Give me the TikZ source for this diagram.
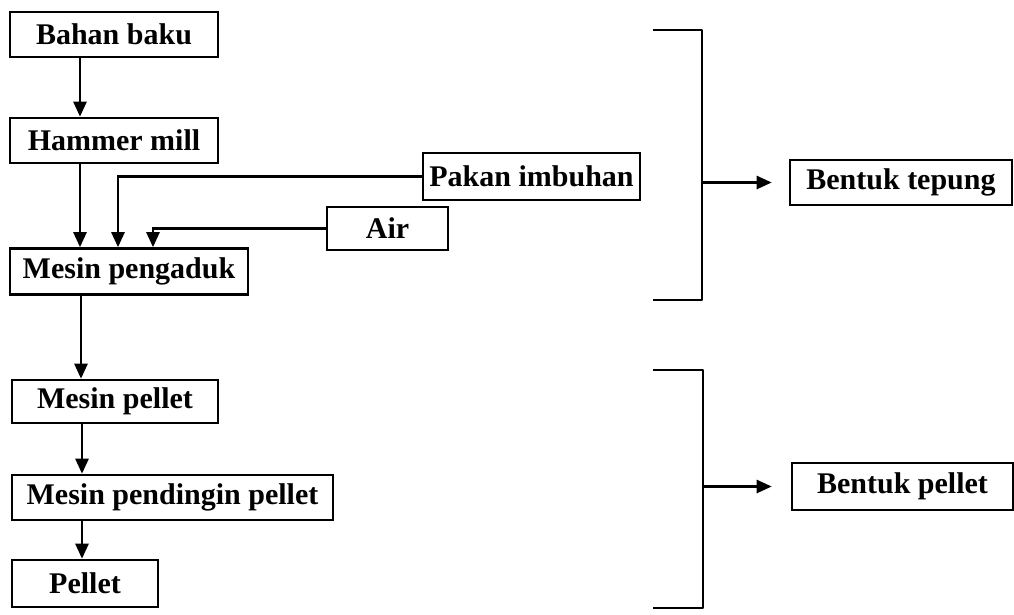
\documentclass[tikz,border=0pt]{standalone}
\usepackage{fontspec}
\setmainfont{Liberation Serif}
\usetikzlibrary{arrows.meta}
\begin{document}
\begin{tikzpicture}[x=1pt,y=-1pt,
  box/.style={draw,line width=2.6pt,inner sep=0pt,font=\fontsize{30}{34}\selectfont\bfseries},
  arr/.style={line width=2.6pt,-{Triangle[width=13pt,length=15pt]}},
  ln/.style={line width=2.6pt}]
\useasboundingbox (0,0) rectangle (1014,614);
\node[box,minimum width=208pt,minimum height=45pt] (bahan) at (114,34.5) {Bahan baku};
\node[box,minimum width=208pt,minimum height=45pt] (hammer) at (114,140.5) {Hammer mill};
\node[box,minimum width=238pt,minimum height=46pt] (aduk) at (129,271.5) {Mesin pengaduk};
\node[box,minimum width=217pt,minimum height=47pt] (pakan) at (531.5,176.5) {Pakan imbuhan};
\node[box,minimum width=121pt,minimum height=43pt] (air) at (387.5,228.5) {Air};
\node[box,minimum width=206pt,minimum height=43pt] (mpellet) at (115,401.5) {Mesin pellet};
\node[box,minimum width=321pt,minimum height=45pt] (dingin) at (172.5,497.5) {Mesin pendingin pellet};
\node[box,minimum width=146pt,minimum height=47pt] (pellet) at (85,583.5) {Pellet};
\node[box,minimum width=222pt,minimum height=45pt] (tepung) at (901,182.5) {Bentuk tepung};
\node[box,minimum width=221pt,minimum height=47pt] (bpellet) at (902.5,486.5) {Bentuk pellet};

\draw[arr] ([xshift=-34pt]bahan.south) -- ([xshift=-34pt]hammer.north);
\draw[arr] ([xshift=-34pt]hammer.south) -- ([xshift=-49pt]aduk.north);
\draw[arr] (pakan.west) -| ([xshift=-11pt]aduk.north);
\draw[arr] (air.west) -| ([xshift=24pt]aduk.north);
\draw[arr] ([xshift=-48pt]aduk.south) -- ([xshift=-34pt]mpellet.north);
\draw[arr] ([xshift=-33pt]mpellet.south) -- ([xshift=-90.5pt]dingin.north);
\draw[arr] ([xshift=-90.5pt]dingin.south) -- ([xshift=-3pt]pellet.north);

\coordinate (t1a) at (653,30);
\coordinate (t1b) at (702,30);
\coordinate (t1c) at (702,300);
\coordinate (t1d) at (653,300);
\draw[ln,line join=round] (t1a) -- (t1b) -- (t1c) -- (t1d);
\coordinate (b1) at (t1b |- tepung.west);
\draw[arr] (b1) -- ([xshift=-17pt]tepung.west);

\coordinate (t2a) at (653,370);
\coordinate (t2b) at (703,370);
\coordinate (t2c) at (703,608);
\coordinate (t2d) at (653,608);
\draw[ln,line join=round] (t2a) -- (t2b) -- (t2c) -- (t2d);
\coordinate (b2) at (t2b |- bpellet.west);
\draw[arr] (b2) -- ([xshift=-19pt]bpellet.west);
\end{tikzpicture}
\end{document}
